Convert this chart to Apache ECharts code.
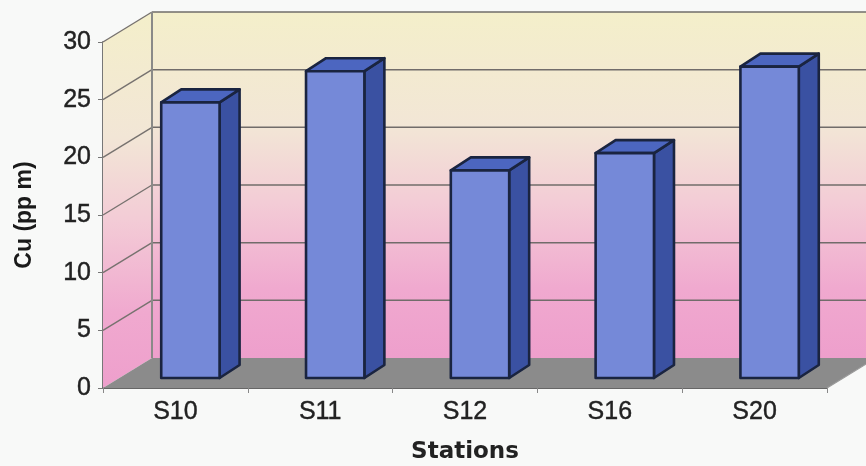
<!DOCTYPE html>
<html>
<head>
<meta charset="utf-8">
<style>html,body{margin:0;padding:0;background:#f8f9f8;overflow:hidden}#chart{width:866px;height:466px}</style>
<script src="https://cdn.jsdelivr.net/npm/echarts@6/dist/echarts.min.js"></script>
</head>
<body>
<div id="chart"></div>
<script>
// Copper concentration per sampling station
const stations = ['S10', 'S11', 'S12', 'S16', 'S20'];
const copper = [23.9, 26.6, 18, 19.5, 27];
const yTicks = [0, 5, 10, 15, 20, 25, 30];

// Oblique projection used for the pseudo-3D box
const WALL_DX = 49, WALL_DY = -30;
const BAR_DX = 15, BAR_DY = -10;
const SIDE_DX = 20, SIDE_DY = -13;
const BAR_RATIO = 0.403;
const EDGE = '#1a2440';
const FONT = '"Liberation Sans", Arial, sans-serif';

function poly(points, style, z2) {
  return { type: 'polygon', shape: { points }, style, z2: z2 || 0, silent: true };
}
function seg(a, b, stroke, width, z2) {
  return { type: 'line', shape: { x1: a[0], y1: a[1], x2: b[0], y2: b[1] },
           style: { stroke, lineWidth: width }, z2: z2 || 0, silent: true };
}

// Left wall, back wall, floor and the gridlines running round them
function renderBox(params, api) {
  const last = stations.length - 1;
  const half = api.size([1, 0])[0] / 2;
  const corner = (i, v) => { const p = api.coord([i, v]); return [p[0] + half * (i === 0 ? -1 : 1), p[1]]; };
  const back = p => [p[0] + WALL_DX, p[1] + WALL_DY];
  const fl = corner(0, 0), tl = corner(0, 30), fr = corner(last, 0), tr = corner(last, 30);
  const wallFill = {
    type: 'linear', x: 0, y: 0, x2: 0, y2: 1,
    colorStops: [
      { offset: 0, color: '#f4efca' },
      { offset: 0.33, color: '#f2e6d6' },
      { offset: 0.55, color: '#f3ccd6' },
      { offset: 0.8, color: '#f0a9cf' },
      { offset: 1, color: '#ee9fcc' }
    ]
  };
  const children = [
    poly([fl, tl, back(tl), back(fl)], { fill: wallFill }),
    poly([back(fl), back(tl), back(tr), back(fr)], { fill: wallFill }),
    poly([fl, fr, back(fr), back(fl)], { fill: '#8b8b8b' }, 1)
  ];
  yTicks.forEach(v => {
    if (v === 0) return;
    const a = corner(0, v), b = corner(last, v);
    children.push(seg(a, back(a), '#77726f', 1.4, 2));
    children.push(seg(back(a), back(b), '#716c6a', 1.5, 2));
  });
  children.push(seg(back(fl), back(tl), '#8a8a88', 2, 2));
  children.push(seg(fr, back(fr), '#9a9a9a', 1.2, 2));
  return { type: 'group', children };
}

// One box-shaped column, positioned from its value through the axes
function renderBar(params, api) {
  const base = api.coord([api.value(0), 0]);
  const top = api.coord([api.value(0), api.value(1)]);
  const w = api.size([1, 0])[0] * BAR_RATIO;
  const x0 = base[0] - w / 2 + BAR_DX, x1 = x0 + w;
  const y0 = top[1] + BAR_DY, y1 = base[1] + BAR_DY;
  const s = { stroke: EDGE, lineWidth: 2.6, lineJoin: 'round' };
  return {
    type: 'group',
    children: [
      poly([[x1, y0], [x1 + SIDE_DX, y0 + SIDE_DY], [x1 + SIDE_DX, y1 + SIDE_DY], [x1, y1]], { fill: '#3a51a2', ...s }),
      poly([[x0, y0], [x0 + SIDE_DX, y0 + SIDE_DY], [x1 + SIDE_DX, y0 + SIDE_DY], [x1, y0]], { fill: '#4c66c0', ...s }),
      poly([[x0, y0], [x1, y0], [x1, y1], [x0, y1]], { fill: '#7589d8', ...s })
    ]
  };
}

const chart = echarts.init(document.getElementById('chart'), null, { renderer: 'canvas' });
chart.setOption({
  animation: false,
  backgroundColor: '#f8f9f8',
  textStyle: { fontFamily: FONT },
  grid: { left: 103, right: 39, top: 42, height: 346, outerBoundsMode: 'none' },
  xAxis: {
    type: 'category',
    data: stations,
    name: 'Stations',
    nameLocation: 'middle',
    nameGap: 53,
    nameTextStyle: { fontFamily: '"DejaVu Sans", sans-serif', fontWeight: 'bold', fontSize: 23, color: '#222' },
    axisLine: { lineStyle: { color: '#666', width: 2 } },
    axisTick: { show: true, length: 5, lineStyle: { color: '#888' } },
    axisLabel: { color: '#222', fontSize: 25, margin: 12, fontFamily: FONT, textBorderColor: '#222', textBorderWidth: 0.4 }
  },
  yAxis: {
    type: 'value',
    min: 0,
    max: 30,
    interval: 5,
    name: 'Cu (pp m)',
    nameLocation: 'middle',
    nameGap: 67,
    nameTextStyle: { fontFamily: FONT, fontWeight: 'bold', fontSize: 23, color: '#1a1a1a' },
    splitLine: { show: false },
    axisLine: { show: true, lineStyle: { color: '#777', width: 2 } },
    axisTick: { show: true, length: 5, lineStyle: { color: '#777' } },
    axisLabel: { color: '#222', fontSize: 25, margin: 12, padding: [0, 0, 4, 0], fontFamily: FONT, textBorderColor: '#222', textBorderWidth: 0.4 }
  },
  series: [
    {
      type: 'custom',
      clip: false,
      z: 1,
      silent: true,
      renderItem: renderBox,
      data: [[0, 0]],
      encode: { x: 0, y: 1 }
    },
    {
      type: 'custom',
      clip: false,
      z: 2,
      renderItem: renderBar,
      data: stations.map((s, i) => [i, copper[i]]),
      encode: { x: 0, y: 1 }
    }
  ]
});
</script>
</body>
</html>
